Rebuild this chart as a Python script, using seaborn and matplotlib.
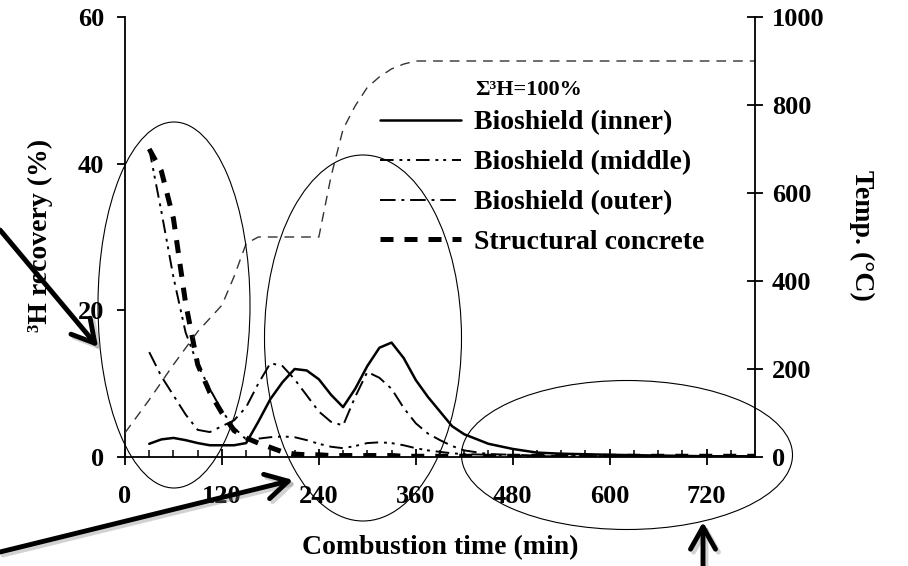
import matplotlib
matplotlib.use("Agg")
import matplotlib.pyplot as plt
import seaborn as sns
from matplotlib.patches import Ellipse
from matplotlib.ticker import MultipleLocator

# combustion time (min) for the 3H recovery curves
time_min = [30, 45, 60, 75, 90, 105, 120, 135, 150, 165, 180, 195, 210, 225, 240, 255, 270,
            285, 300, 315, 330, 345, 360, 375, 390, 405, 420, 450, 480, 510, 540, 600, 660, 720, 780]
inner = [1.8, 2.4, 2.6, 2.3, 1.9, 1.6, 1.6, 1.6, 1.9, 4.8, 7.9, 10.2, 12.0, 11.8, 10.6, 8.5, 6.8,
         9.3, 12.4, 14.9, 15.6, 13.5, 10.5, 8.2, 6.2, 4.2, 3.1, 1.8, 1.1, 0.6, 0.45, 0.3, 0.2, 0.1, 0.1]
middle = [42.0, 33.5, 24.5, 17.0, 12.6, 9.3, 6.3, 4.0, 2.4, 2.5, 2.7, 2.8, 2.7, 2.3, 1.8, 1.4, 1.2,
          1.5, 1.9, 2.0, 1.9, 1.6, 1.2, 0.9, 0.7, 0.5, 0.4, 0.3, 0.2, 0.1, 0.1, 0.1, 0.1, 0.1, 0.1]
outer = [14.3, 11.0, 8.4, 5.8, 3.7, 3.4, 4.2, 5.0, 6.8, 10.0, 12.8, 12.4, 10.6, 8.4, 6.2, 4.8, 4.3,
         8.2, 11.6, 10.8, 9.3, 6.7, 4.6, 3.2, 2.3, 1.5, 0.9, 0.4, 0.3, 0.2, 0.15, 0.1, 0.1, 0.1, 0.1]
concrete = [42.0, 39.0, 32.5, 21.0, 12.6, 8.8, 6.0, 3.6, 2.6, 1.9, 1.3, 0.7, 0.4, 0.3, 0.3, 0.2, 0.2,
            0.2, 0.2, 0.2, 0.2, 0.1, 0.1, 0.1, 0.1, 0.1, 0.1, 0.1, 0.1, 0.1, 0.1, 0.1, 0.1, 0.1, 0.1]
series_names = ["Bioshield (inner)", "Bioshield (middle)", "Bioshield (outer)", "Structural concrete"]

# furnace temperature program
temp_time = [0, 30, 60, 90, 120, 135, 150, 165, 240, 255, 270, 285, 300, 315, 330, 345, 360, 780]
temp_c = [55, 130, 210, 285, 345, 410, 485, 500, 500, 637, 745, 798, 840, 864, 882, 893, 900, 900]

sns.set_theme(style="ticks", rc={"axes.edgecolor": "black", "xtick.color": "black",
                                 "ytick.color": "black", "text.color": "black",
                                 "axes.labelcolor": "black"})
plt.rcParams["font.family"] = ["Liberation Serif", "DejaVu Serif"]
plt.rcParams["font.weight"] = "bold"

W, H = 908, 566
fig = plt.figure(figsize=(W / 100, H / 100), dpi=100)
ax = fig.add_axes([125 / W, 1 - 457 / H, 630 / W, 440 / H])
ax2 = ax.twinx()

styles = [("-", 1.8), ((0, (7, 3, 1.5, 2.5, 1.5, 3)), 1.4), ((0, (8, 3, 1.5, 3)), 1.4),
          ((0, (2.6, 2.2)), 3.6)]
for vals, name, (ls, lw) in zip([inner, middle, outer, concrete], series_names, styles):
    sns.lineplot(x=time_min, y=vals, ax=ax, color="black", ls=ls, lw=lw, label=name, legend=False)

sns.lineplot(x=temp_time, y=temp_c, ax=ax2, color="#333333", ls=(0, (7, 5)), lw=1.0, legend=False)

ax.set_xlim(0, 780)
ax.set_ylim(0, 60)
ax2.set_ylim(0, 1000)
ax.set_xticks(range(0, 721, 120))
ax.xaxis.set_minor_locator(MultipleLocator(30))
ax.set_yticks([0, 20, 40, 60])
ax2.set_yticks(range(0, 1001, 200))

for a in (ax, ax2):
    a.spines["top"].set_visible(False)
    for s in a.spines.values():
        s.set_linewidth(1.3)
ax.spines["right"].set_visible(False)
ax2.spines["left"].set_visible(False)
ax2.spines["bottom"].set_visible(False)

ax.tick_params(axis="x", which="major", direction="inout", length=12, width=1.3, pad=14, labelsize=19)
ax.tick_params(axis="x", which="minor", direction="in", length=5, width=1.1)
ax.tick_params(axis="y", direction="out", length=6, width=1.3, pad=9, labelsize=19)
ax2.tick_params(axis="y", direction="inout", length=12, width=1.3, pad=6, labelsize=19)
for lab in ax.get_xticklabels() + ax.get_yticklabels() + ax2.get_yticklabels():
    lab.set_fontweight("bold")
ax.set_xlabel("")
ax.set_ylabel("")
ax2.set_ylabel("")

fig.text(440 / W, 1 - 548 / H, "Combustion time (min)", ha="center", va="center", fontsize=20, weight="bold")
fig.text(40 / W, 1 - 235 / H, "³H recovery (%)", ha="center", va="center", rotation=90, fontsize=20, weight="bold")
fig.text(862 / W, 1 - 235 / H, "Temp. (°C)", ha="center", va="center", rotation=270, fontsize=20, weight="bold")

handles, labels = ax.get_legend_handles_labels()
ax.legend(handles, labels, loc="upper left", bbox_to_anchor=(380 / W, 1 - 110 / H),
          bbox_transform=fig.transFigure, frameon=False, prop={"size": 20, "weight": "bold"},
          handlelength=2.9, handletextpad=0.5, labelspacing=0.52, borderpad=0, borderaxespad=0)
fig.text(475 / W, 1 - 90 / H, "Σ³H=100%", ha="left", va="center", fontsize=16, weight="bold")

# annotation layer in pixel coordinates
ov = fig.add_axes([0, 0, 1, 1], zorder=10)
ov.set_xlim(0, W)
ov.set_ylim(H, 0)
ov.axis("off")
ov.patch.set_alpha(0)
for cx, cy, ew, eh in [(174, 305, 152, 366), (363, 338, 197, 366), (627, 455, 331, 149)]:
    ov.add_patch(Ellipse((cx, cy), ew, eh, fill=False, lw=0.8, ec="black"))


def shadow_arrow(x0, y0, x1, y1):
    for dx, col, alpha in [(3, "gray", 0.35), (0, "black", 1.0)]:
        ov.annotate("", xy=(x1 + dx, y1 + dx), xytext=(x0 + dx, y0 + dx),
                    arrowprops=dict(arrowstyle="->,head_length=0.8,head_width=0.45", lw=3.5,
                                    color=col, alpha=alpha, shrinkA=0, shrinkB=0, mutation_scale=20))


shadow_arrow(0, 230, 98, 347)
shadow_arrow(0, 552, 293, 480)
shadow_arrow(703, 566, 703, 522)

fig.savefig("out.png", dpi=100)
